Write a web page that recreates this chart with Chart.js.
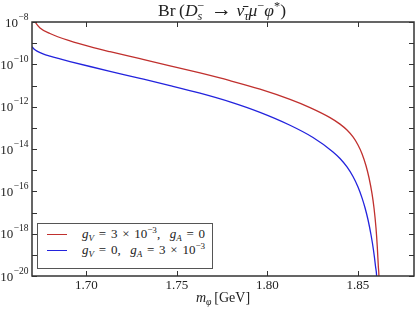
<!DOCTYPE html>
<html>
<head>
<meta charset="utf-8">
<script src="https://cdn.jsdelivr.net/npm/chart.js@4.4.1/dist/chart.umd.min.js"></script>
<style>
  html, body { margin: 0; padding: 0; background: #fff; }
  .wrap { position: relative; width: 415px; height: 310px; font-family: "Liberation Serif", serif; color: #222; }
  canvas { position: absolute; left: 0; top: 0; }
  sub, sup { font-size: 70%; line-height: 0; position: relative; vertical-align: baseline; }
  sup { top: -0.5em; }
  sub { top: 0.3em; }
  sup.zw { display: inline-block; width: 0; }
  .title { position: absolute; left: 0; top: 0; width: 444px; text-align: center; font-size: 17.5px; line-height: 20px; white-space: nowrap; }
  .title .arr { font-size: 120%; line-height: 0; }
  .xlabel { position: absolute; left: 0; top: 289px; width: 446px; text-align: center; font-size: 14px; line-height: 18px; white-space: nowrap; }
  .legend { position: absolute; left: 37px; top: 223px; width: 174px; height: 44px; border: 1.5px solid #555; background: #fff; font-size: 13px; }
  .legend .swatch { position: absolute; left: 9px; width: 20px; height: 0; border-top: 1.5px solid; }
  .legend .txt { position: absolute; left: 44px; white-space: nowrap; line-height: 16px; word-spacing: 1.5px; }
</style>
</head>
<body>
<div class="wrap">
  <canvas id="br-chart" width="415" height="310"></canvas>
  <div class="title">Br&thinsp;(<i>D</i><sup class="zw">−</sup><sub><i>s</i></sub>&nbsp; <span class="arr">→</span> <i>ν̄</i><sub><i>τ</i></sub><i>μ</i><sup>−</sup><i>φ</i><sup>*</sup>)</div>
  <div class="legend">
    <div class="swatch" style="top:10px;border-color:#c0302e"></div>
    <div class="txt" style="top:2px"><i>g</i><sub><i>V</i></sub> = 3 × 10<sup>−3</sup>,&nbsp; <i>g</i><sub><i>A</i></sub> = 0</div>
    <div class="swatch" style="top:26px;border-color:#2323dd"></div>
    <div class="txt" style="top:18px"><i>g</i><sub><i>V</i></sub> = 0,&nbsp; <i>g</i><sub><i>A</i></sub> = 3 × 10<sup>−3</sup></div>
  </div>
  <div class="xlabel"><i>m</i><sub><i>φ</i></sub>&thinsp;[GeV]</div>
</div>

<script>
// g_V = 3e-3, g_A = 0
const mPhiRed = [1.67000, 1.67166, 1.67442, 1.67994, 1.69099, 1.70204, 1.71308, 1.72966, 1.74623, 1.76280,
    1.77937, 1.79594, 1.81251, 1.82356, 1.83461, 1.84013, 1.84399, 1.84731, 1.85007, 1.85228,
    1.85449, 1.85615, 1.85781, 1.85891, 1.86001, 1.86073, 1.86128, 1.86167, 1.86189];
const brRed = [1.72e-8, 1.00e-8, 5.21e-9, 2.86e-9, 1.28e-9, 6.81e-10, 3.95e-10, 1.84e-10, 8.53e-11, 3.90e-11,
    1.69e-11, 6.69e-12, 2.20e-12, 9.03e-13, 3.04e-13, 1.50e-13, 7.86e-14, 3.71e-14, 1.55e-14, 5.97e-15,
    1.62e-15, 4.38e-16, 7.77e-17, 1.63e-17, 1.85e-18, 2.34e-19, 2.97e-20, 8.04e-21, 7.35e-22];

// g_V = 0, g_A = 3e-3
const mPhiBlue = [1.67000, 1.67110, 1.67276, 1.67608, 1.67994, 1.68547, 1.69099, 1.70204, 1.71308, 1.72966,
    1.74623, 1.76280, 1.77937, 1.79594, 1.81251, 1.82522, 1.83627, 1.84013, 1.84399, 1.84731,
    1.85007, 1.85228, 1.85394, 1.85560, 1.85725, 1.85863, 1.85974, 1.86046, 1.86073];
const brBlue = [6.81e-10, 5.30e-10, 4.22e-10, 3.14e-10, 2.45e-10, 1.81e-10, 1.36e-10, 7.90e-11, 4.69e-11, 2.18e-11,
    9.95e-12, 4.33e-12, 1.68e-12, 5.36e-13, 1.32e-13, 3.49e-14, 7.29e-15, 3.54e-15, 1.42e-15, 4.99e-16,
    1.59e-16, 4.92e-17, 1.68e-17, 4.55e-18, 8.89e-19, 1.65e-19, 2.89e-20, 6.54e-21, 7.35e-22];

const xTicks = [1.70, 1.75, 1.80, 1.85];
const yDecades = [-20, -19, -18, -17, -16, -15, -14, -13, -12, -11, -10, -9, -8];
const yLabelDecades = [-20, -18, -16, -14, -12, -10, -8];

const FRAME = '#333';
const TICK_LEN = 5;

function toPoints(xs, ys) {
    return xs.map((x, i) => ({ x: x, y: ys[i] }));
}

// frame, inward ticks on all four sides and the tick labels
const framePlugin = {
    id: 'frame',
    afterDraw(chart) {
        const ctx = chart.ctx;
        const area = chart.chartArea;
        const xs = chart.scales.x;
        const ys = chart.scales.y;

        ctx.save();
        ctx.strokeStyle = FRAME;
        ctx.lineWidth = 1;
        ctx.beginPath();
        xTicks.forEach(v => {
            const px = Math.round(xs.getPixelForValue(v)) + 0.5;
            ctx.moveTo(px, area.bottom); ctx.lineTo(px, area.bottom - TICK_LEN);
            ctx.moveTo(px, area.top); ctx.lineTo(px, area.top + TICK_LEN);
        });
        yDecades.forEach(d => {
            const py = Math.round(ys.getPixelForValue(Math.pow(10, d))) + 0.5;
            ctx.moveTo(area.left, py); ctx.lineTo(area.left + TICK_LEN, py);
            ctx.moveTo(area.right, py); ctx.lineTo(area.right - TICK_LEN, py);
        });
        ctx.stroke();

        ctx.lineWidth = 1.5;
        ctx.strokeRect(area.left, area.top, area.right - area.left, area.bottom - area.top);

        ctx.fillStyle = '#222';
        ctx.textBaseline = 'alphabetic';
        ctx.textAlign = 'center';
        ctx.font = '13px "Liberation Serif", serif';
        xTicks.forEach(v => {
            ctx.fillText(v.toFixed(2), xs.getPixelForValue(v), area.bottom + 13);
        });

        ctx.textAlign = 'right';
        const rightEdge = area.left - 3.5;
        yLabelDecades.forEach(d => {
            const py = ys.getPixelForValue(Math.pow(10, d));
            const exp = '\u2212' + Math.abs(d);
            ctx.font = '9.5px "Liberation Serif", serif';
            const expW = ctx.measureText(exp).width;
            ctx.fillText(exp, rightEdge, py - 2.5);
            ctx.font = '13px "Liberation Serif", serif';
            ctx.fillText('10', rightEdge - expW - 0.5, py + 4.5);
        });
        ctx.restore();
    }
};

new Chart(document.getElementById('br-chart'), {
    type: 'line',
    data: {
        datasets: [
            {
                label: 'gV = 3e-3, gA = 0',
                data: toPoints(mPhiRed, brRed),
                borderColor: '#c0302e',
                borderWidth: 1.3,
                pointRadius: 0,
                cubicInterpolationMode: 'monotone',
                clip: 0
            },
            {
                label: 'gV = 0, gA = 3e-3',
                data: toPoints(mPhiBlue, brBlue),
                borderColor: '#2323dd',
                borderWidth: 1.3,
                pointRadius: 0,
                cubicInterpolationMode: 'monotone',
                clip: 0
            }
        ]
    },
    options: {
        responsive: false,
        animation: false,
        layout: { padding: { left: 32, top: 22, right: 1, bottom: 34 } },
        plugins: {
            legend: { display: false },
            title: { display: false },
            tooltip: { enabled: false }
        },
        scales: {
            x: { type: 'linear', min: 1.67, max: 1.881, display: false },
            y: { type: 'logarithmic', min: 1e-20, max: 1e-8, display: false }
        }
    },
    plugins: [framePlugin]
});
</script>
</body>
</html>
